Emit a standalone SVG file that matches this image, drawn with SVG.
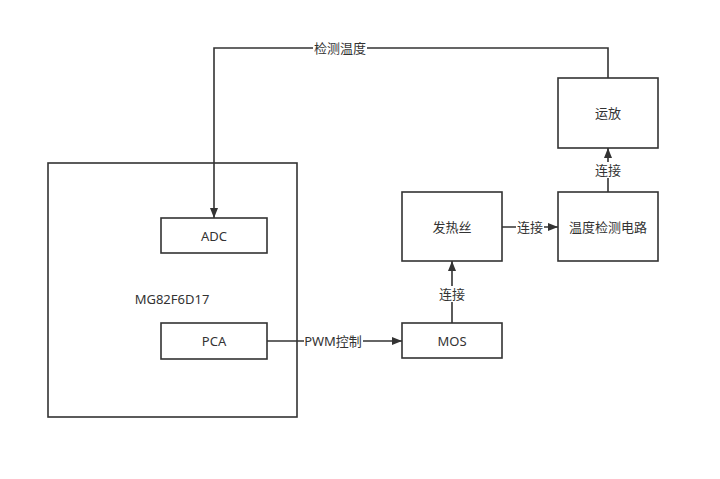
<svg xmlns="http://www.w3.org/2000/svg" width="720" height="479" viewBox="0 0 720 479">
<style>
.box{fill:#fff;stroke:#333;stroke-width:1.6}
.t{font-family:"Noto Sans","Noto Sans CJK SC",sans-serif;font-size:13px;fill:#333;text-anchor:middle;dominant-baseline:central}
.e{fill:none;stroke:#333;stroke-width:1.6}
.lb{fill:#fff}
</style>
<defs>
<marker id="a" viewBox="0 0 10 10" refX="10" refY="5" markerWidth="10" markerHeight="8" markerUnits="userSpaceOnUse" orient="auto" preserveAspectRatio="none"><path d="M0,0 L10,5 L0,10 Z" fill="#333"/></marker>
</defs>
<rect width="720" height="479" fill="#fff"/>
<g id="mcu"><rect class="box" x="48" y="163" width="249" height="254"/><text class="t" x="172" y="299">MG82F6D17</text></g>
<g id="adc"><rect class="box" x="161" y="218" width="106" height="35"/><text class="t" x="214" y="236">ADC</text></g>
<g id="pca"><rect class="box" x="161" y="323" width="106" height="36"/><text class="t" x="214" y="341">PCA</text></g>
<g id="mos"><rect class="box" x="402" y="323" width="100" height="35"/><text class="t" x="452" y="341">MOS</text></g>
<g id="heater"><rect class="box" x="402" y="192" width="100" height="69"/><text class="t" x="452" y="227">发热丝</text></g>
<g id="sense"><rect class="box" x="558" y="192" width="100" height="69"/><text class="t" x="608" y="227">温度检测电路</text></g>
<g id="opamp"><rect class="box" x="558" y="78" width="100" height="70"/><text class="t" x="608" y="113">运放</text></g>
<g id="connectors">
<path class="e" d="M608,78 V48 H214 V218" marker-end="url(#a)"/>
<rect class="lb" x="313" y="40" width="54" height="16"/><text class="t" x="340" y="48">检测温度</text>
<path class="e" d="M608,192 V148" marker-end="url(#a)"/>
<rect class="lb" x="594" y="162" width="28" height="16"/><text class="t" x="608" y="170">连接</text>
<path class="e" d="M502,227 H558" marker-end="url(#a)"/>
<rect class="lb" x="516" y="219" width="28" height="16"/><text class="t" x="530" y="227">连接</text>
<path class="e" d="M452,323 V261" marker-end="url(#a)"/>
<rect class="lb" x="438" y="286" width="28" height="16"/><text class="t" x="452" y="294">连接</text>
<path class="e" d="M267,341 H402" marker-end="url(#a)"/>
<rect class="lb" x="304" y="333" width="59" height="16"/><text class="t" x="333" y="341">PWM控制</text>
</g>
</svg>
